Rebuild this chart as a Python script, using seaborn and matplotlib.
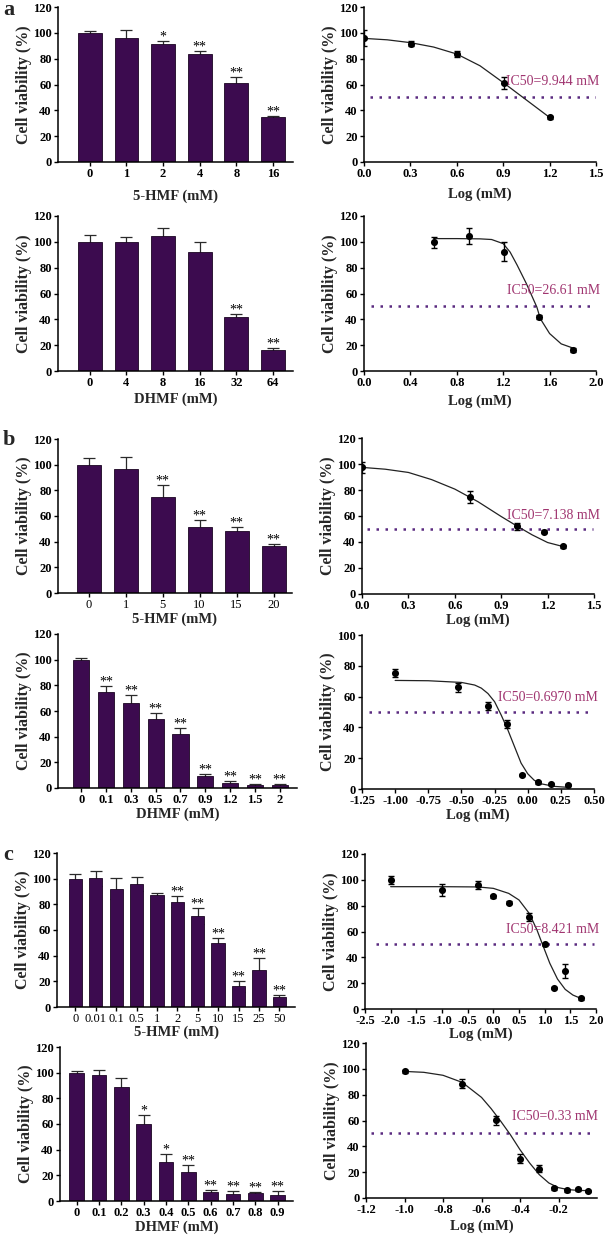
import numpy as np
import pandas as pd
import matplotlib
matplotlib.use("Agg")
import matplotlib.pyplot as plt
import seaborn as sns

sns.set_style("ticks")
plt.rcParams['font.family'] = ['Liberation Serif', 'DejaVu Serif']

# ---------------- data ----------------
# (a) 5-HMF
a_hmf_doses = ["0", "1", "2", "4", "8", "16"]
a_hmf_mean = [100, 96, 91.5, 83.5, 61, 34.5]
a_hmf_err = [1.5, 6, 2.5, 2.5, 4.5, 1.5]
a_hmf_sig = ["", "", "*", "**", "**", "**"]
a_hmf_logx = [0.0, 0.301, 0.602, 0.903, 1.204]
a_hmf_logy = [96, 91.5, 83.5, 61, 34.5]
a_hmf_logerr = [6, 2, 2.5, 4.5, 1.5]
a_hmf_fitx = [0.0, 0.15, 0.3, 0.45, 0.6, 0.75, 0.9, 1.05, 1.2]
a_hmf_fity = [95.7, 94.6, 92.4, 89.0, 83.6, 74.5, 61.5, 48.0, 34.5]

# (a) DHMF
a_dhmf_doses = ["0", "4", "8", "16", "32", "64"]
a_dhmf_mean = [100, 99.5, 104.5, 92.5, 42, 16]
a_dhmf_err = [5.5, 4, 6, 7.5, 2.5, 1.5]
a_dhmf_sig = ["", "", "", "", "**", "**"]
a_dhmf_logx = [0.602, 0.903, 1.204, 1.505, 1.806]
a_dhmf_logy = [99.5, 104.5, 92.5, 42, 16]
a_dhmf_logerr = [4, 6, 7.5, 1.5, 1.5]
a_dhmf_fitx = [0.6, 0.8, 1.0, 1.1, 1.2, 1.26, 1.32, 1.4, 1.49, 1.52, 1.6, 1.7, 1.8]
a_dhmf_fity = [102.5, 102.5, 102.3, 101.8, 98.6, 92, 82, 67.6, 49.5, 40.5, 29, 21, 17.8]

# (b) 5-HMF
b_hmf_doses = ["0", "1", "5", "10", "15", "20"]
b_hmf_mean = [100, 97, 74.5, 51.5, 48, 36.5]
b_hmf_err = [5, 9, 9.5, 5.5, 3.5, 2]
b_hmf_sig = ["", "", "**", "**", "**", "**"]
b_hmf_logx = [0.0, 0.699, 1.0, 1.176, 1.301]
b_hmf_logy = [97.4, 74.5, 52, 48, 36.7]
b_hmf_logerr = [4, 4.8, 2.7, 1, 1]
b_hmf_fitx = [0.0, 0.15, 0.3, 0.45, 0.6, 0.75, 0.9, 1.0, 1.1, 1.2, 1.3]
b_hmf_fity = [97.4, 96.0, 93.5, 88.0, 80.7, 71.0, 59.6, 52.4, 45.5, 39.6, 36.5]

# (b) DHMF
b_dhmf_doses = ["0", "0.1", "0.3", "0.5", "0.7", "0.9", "1.2", "1.5", "2"]
b_dhmf_mean = [100, 75, 66.5, 54, 42, 9, 4, 2.5, 2]
b_dhmf_err = [1.5, 4.5, 6, 4.5, 4.5, 2, 1.3, 0.8, 0.8]
b_dhmf_sig = ["", "**", "**", "**", "**", "**", "**", "**", "**"]
b_dhmf_logx = [-1.0, -0.523, -0.301, -0.155, -0.046, 0.079, 0.176, 0.301]
b_dhmf_logy = [75.2, 66, 54, 42, 9, 4.3, 3.2, 2.6]
b_dhmf_logerr = [2.4, 2.7, 2.4, 2.7, 0.8, 0.8, 0.8, 0.8]
b_dhmf_fitx = [-1.0, -0.75, -0.5, -0.4, -0.35, -0.3, -0.25, -0.2, -0.15, -0.1, -0.05, 0.0, 0.05, 0.1, 0.2, 0.3]
b_dhmf_fity = [70.5, 70.3, 69.2, 67.5, 65.5, 62, 56.7, 48, 38.4, 27.6, 16.8, 9.9, 5.6, 3.4, 1.7, 1.1]

# (c) 5-HMF
c_hmf_doses = ["0", "0.01", "0.1", "0.5", "1", "2", "5", "10", "15", "25", "50"]
c_hmf_mean = [99.7, 100.3, 92.2, 95.8, 87, 82.1, 70.9, 49.9, 16.1, 28.6, 7.8]
c_hmf_err = [4.2, 5.7, 8.3, 5.5, 1.8, 4.4, 6, 3.6, 4.2, 9.6, 1.6]
c_hmf_sig = ["", "", "", "", "", "**", "**", "**", "**", "**", "**"]
c_hmf_logx = [-2.0, -1.0, -0.301, 0.0, 0.301, 0.699, 1.0, 1.176, 1.398, 1.699]
c_hmf_logy = [100.1, 92.1, 96.3, 87.2, 82.3, 71, 50, 16.3, 29.2, 8.3]
c_hmf_logerr = [3, 4.4, 3.1, 1, 1, 3.2, 1, 1, 5.3, 1]
c_hmf_fitx = [-2.0, -1.0, -0.3, 0.0, 0.3, 0.5, 0.7, 0.85, 0.95, 1.1, 1.25, 1.4, 1.55, 1.7]
c_hmf_fity = [94.7, 94.7, 94.5, 93.4, 89.5, 84.4, 74, 61.2, 50.8, 35.4, 23.2, 15.2, 10.8, 8.3]

# (c) DHMF
c_dhmf_doses = ["0", "0.1", "0.2", "0.3", "0.4", "0.5", "0.6", "0.7", "0.8", "0.9"]
c_dhmf_mean = [99.7, 97.9, 88.8, 59.7, 30.1, 22.6, 7, 5.5, 6.5, 4.7]
c_dhmf_err = [1.6, 4.2, 7.3, 7.1, 6.8, 5.7, 1.8, 2, 0.8, 3.1]
c_dhmf_sig = ["", "", "", "*", "*", "**", "**", "**", "**", "**"]
c_dhmf_logx = [-1.0, -0.699, -0.523, -0.398, -0.301, -0.222, -0.155, -0.097, -0.046]
c_dhmf_logy = [98.1, 88.5, 60.1, 30.5, 22.7, 7.5, 5.9, 6.7, 5.4]
c_dhmf_logerr = [1, 3.5, 3.5, 3.6, 2.8, 1, 1, 1, 1]
c_dhmf_fitx = [-1.0, -0.9, -0.8, -0.7, -0.6, -0.55, -0.5, -0.45, -0.4, -0.35, -0.3, -0.25, -0.2, -0.15, -0.1, -0.046]
c_dhmf_fity = [98, 97.3, 95, 89.5, 77.9, 69.2, 59.4, 49, 37.4, 27.1, 18.1, 11.6, 8, 6.5, 5.9, 5.7]

ic50_labels = ["IC50=9.944 mM", "IC50=26.61 mM", "IC50=7.138 mM",
               "IC50=0.6970 mM", "IC50=8.421 mM", "IC50=0.33 mM"]

# ---------------- style ----------------
W, H = 608, 1241
BAR_COLOR = "#3c0b4f"
DOT_COLOR = "#5a2a80"
IC_COLOR = "#a03570"
TICK_FS = 9
LAB_FS = 10.5

fig = plt.figure(figsize=(W / 100, H / 100), dpi=100)


def make_ax(x0, x1, ytop, ybot):
    return fig.add_axes([x0 / W, 1 - ybot / H, (x1 - x0) / W, (ybot - ytop) / H])


def style_ax(ax, bold_x=True):
    for s in ["top", "right"]:
        ax.spines[s].set_visible(False)
    for s in ["left", "bottom"]:
        ax.spines[s].set_linewidth(1.1)
        ax.spines[s].set_color("black")
    ax.tick_params(direction="out", length=3, width=1.0, pad=1.5,
                   labelsize=TICK_FS, colors="black")
    for lab in ax.get_yticklabels():
        lab.set_fontweight("bold")
    for lab in ax.get_xticklabels():
        lab.set_fontweight("bold" if bold_x else "normal")
    ax.set_ylabel("Cell viability (%)", fontsize=11.5, fontweight="bold", labelpad=1)


def bar_panel(ax, doses, mean, err, sig, xlabel, xlim, bold_x=True, xlabelpad=2):
    df = pd.DataFrame({"dose": doses, "viability": mean})
    sns.barplot(data=df, x="dose", y="viability", order=doses, color=BAR_COLOR,
                saturation=1, width=0.65, edgecolor="#1a0522", linewidth=0.6,
                errorbar=None, ax=ax, zorder=2)
    pos = np.arange(len(doses))
    ax.errorbar(pos, mean, yerr=err, fmt="none", ecolor="#2a2a2a",
                elinewidth=0.9, capsize=4, capthick=0.9, zorder=1)
    for i, (m, e, s) in enumerate(zip(mean, err, sig)):
        if s:
            ax.text(i, m + e + 0.3, s, ha="center", va="baseline",
                    fontsize=10, color="black")
    ax.set_xlim(*xlim)
    ax.set_ylim(0, 120)
    ax.set_yticks(range(0, 121, 20))
    ax.set_xticks(pos)
    ax.set_xticklabels(doses)
    ax.set_xlabel(xlabel, fontsize=LAB_FS, fontweight="bold", labelpad=xlabelpad)
    style_ax(ax, bold_x)


def log_panel(ax, lx, ly, lerr, fx, fy, xlim, xticks, fmt, dot_range, ic_label,
              ic_pos, ylim=(0, 120), ystep=20, xlabelpad=2):
    sns.lineplot(x=fx, y=fy, color="#222222", linewidth=0.9, sort=False,
                 estimator=None, ax=ax, zorder=2)
    ax.errorbar(lx, ly, yerr=lerr, fmt="none", ecolor="black", elinewidth=1.0,
                capsize=2.5, capthick=1.0, zorder=3)
    sns.scatterplot(x=lx, y=ly, color="black", s=26, linewidth=0, ax=ax, zorder=4)
    ax.hlines(50, dot_range[0], dot_range[1], colors=DOT_COLOR, linewidth=1.8,
              linestyles=(0, (1, 2.6)), zorder=1)
    ax.text(ic_pos[0], ic_pos[1], ic_label, color=IC_COLOR, fontsize=10,
            ha="left", va="center")
    ax.set_xlim(*xlim)
    ax.set_ylim(*ylim)
    ax.set_yticks(np.arange(ylim[0], ylim[1] + 1, ystep))
    ax.set_xticks(xticks)
    ax.set_xticklabels([fmt % t for t in xticks])
    ax.set_xlabel("Log (mM)", fontsize=LAB_FS, fontweight="bold", labelpad=xlabelpad)
    style_ax(ax, True)


# Row 1 (a, 5-HMF)
ax = make_ax(58, 293, 7, 162)
bar_panel(ax, a_hmf_doses, a_hmf_mean, a_hmf_err, a_hmf_sig, "5-HMF (mM)",
          (-0.87, 5.55), True, xlabelpad=7)
ax = make_ax(364, 596, 7, 162)
log_panel(ax, a_hmf_logx, a_hmf_logy, a_hmf_logerr, a_hmf_fitx, a_hmf_fity,
          (0, 1.5), [0.0, 0.3, 0.6, 0.9, 1.2, 1.5], "%.1f", (0.04, 1.5),
          ic50_labels[0], (0.92, 62), xlabelpad=5)

# Row 2 (a, DHMF)
ax = make_ax(58, 293, 216, 371)
bar_panel(ax, a_dhmf_doses, a_dhmf_mean, a_dhmf_err, a_dhmf_sig, "DHMF (mM)",
          (-0.87, 5.55), True, xlabelpad=2)
ax = make_ax(364, 596, 216, 371)
log_panel(ax, a_dhmf_logx, a_dhmf_logy, a_dhmf_logerr, a_dhmf_fitx, a_dhmf_fity,
          (0, 2.0), [0.0, 0.4, 0.8, 1.2, 1.6, 2.0], "%.1f", (0.057, 1.99),
          ic50_labels[1], (1.23, 62), xlabelpad=4)

# Row 3 (b, 5-HMF)
ax = make_ax(58, 292, 439, 593)
bar_panel(ax, b_hmf_doses, b_hmf_mean, b_hmf_err, b_hmf_sig, "5-HMF (mM)",
          (-0.83, 5.5), False, xlabelpad=1)
ax = make_ax(362, 594, 438, 594)
log_panel(ax, b_hmf_logx, b_hmf_logy, b_hmf_logerr, b_hmf_fitx, b_hmf_fity,
          (0, 1.5), [0.0, 0.3, 0.6, 0.9, 1.2, 1.5], "%.1f", (0.03, 1.496),
          ic50_labels[2], (0.935, 60.5), xlabelpad=1)

# Row 4 (b, DHMF)
ax = make_ax(58, 297, 634, 788)
bar_panel(ax, b_dhmf_doses, b_dhmf_mean, b_dhmf_err, b_dhmf_sig, "DHMF (mM)",
          (-0.94, 8.7), True, xlabelpad=1)
ax = make_ax(362, 594, 635, 789)
log_panel(ax, b_dhmf_logx, b_dhmf_logy, b_dhmf_logerr, b_dhmf_fitx, b_dhmf_fity,
          (-1.25, 0.5), [-1.25, -1.0, -0.75, -0.5, -0.25, 0.0, 0.25, 0.5], "%.2f",
          (-1.2, 0.5), ic50_labels[3], (-0.225, 59.3), ylim=(0, 100), xlabelpad=1)

# Row 5 (c, 5-HMF)
ax = make_ax(57, 295, 853, 1007)
bar_panel(ax, c_hmf_doses, c_hmf_mean, c_hmf_err, c_hmf_sig, "5-HMF (mM)",
          (-0.9, 10.77), False, xlabelpad=0)
ax = make_ax(365, 596, 854, 1009)
log_panel(ax, c_hmf_logx, c_hmf_logy, c_hmf_logerr, c_hmf_fitx, c_hmf_fity,
          (-2.5, 2.0), [-2.5, -2.0, -1.5, -1.0, -0.5, 0.0, 0.5, 1.0, 1.5, 2.0], "%.1f",
          (-2.29, 1.955), ic50_labels[4], (0.25, 61.2), xlabelpad=0)

# Row 6 (c, DHMF)
ax = make_ax(60, 293, 1047, 1201)
bar_panel(ax, c_dhmf_doses, c_dhmf_mean, c_dhmf_err, c_dhmf_sig, "DHMF (mM)",
          (-0.75, 9.69), True, xlabelpad=1)
ax = make_ax(366, 597, 1043, 1198)
log_panel(ax, c_dhmf_logx, c_dhmf_logy, c_dhmf_logerr, c_dhmf_fitx, c_dhmf_fity,
          (-1.2, 0.0), [-1.2, -1.0, -0.8, -0.6, -0.4, -0.2], "%.1f",
          (-1.174, -0.01), ic50_labels[5], (-0.44, 63), xlabelpad=2)

# Panel letters
fig.text(3 / W, 1 - 15 / H, "a", fontsize=16, fontweight="bold", va="baseline")
fig.text(3 / W, 1 - 445 / H, "b", fontsize=16, fontweight="bold", va="baseline")
fig.text(3 / W, 1 - 860 / H, "c", fontsize=16, fontweight="bold", va="baseline")

fig.savefig("out.png", dpi=100)
